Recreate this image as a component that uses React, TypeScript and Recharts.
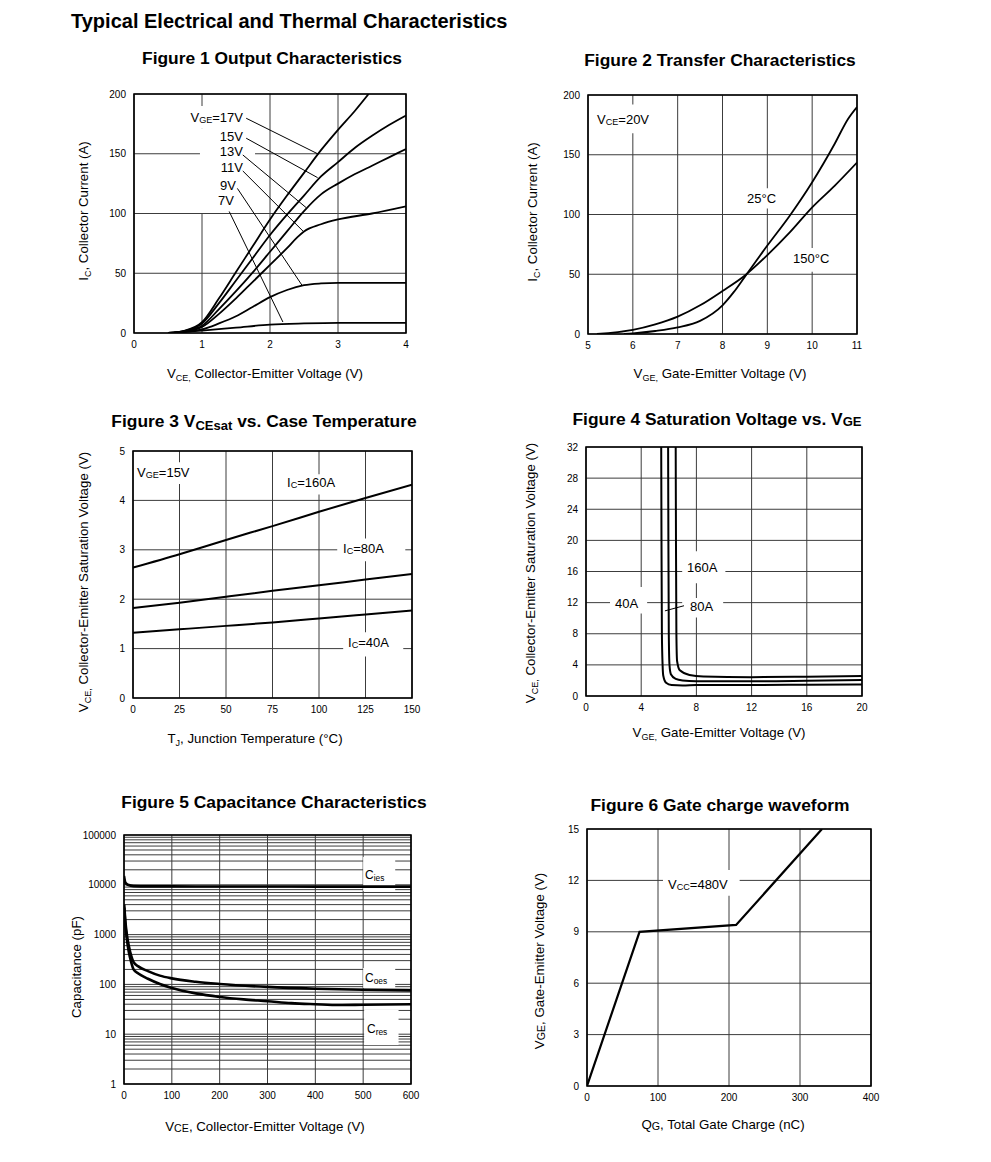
import React from 'react';
import { LineChart, Line, XAxis, YAxis, CartesianGrid, ReferenceArea, ReferenceLine } from 'recharts';

// ---------- Figure 1 : Output characteristics ----------
const f1XTicks = [0, 1, 2, 3, 4];
const f1YTicks = [0, 50, 100, 150, 200];
const f1V17 = [{x:0.5,y:0},{x:0.75,y:2},{x:1,y:9},{x:1.25,y:29},{x:1.5,y:51},{x:1.75,y:73},{x:2,y:95},{x:2.25,y:115},{x:2.5,y:134},{x:2.75,y:153},{x:3,y:170},{x:3.25,y:186},{x:3.45,y:200}];
const f1V15 = [{x:0.5,y:0},{x:0.75,y:1.8},{x:1,y:8},{x:1.25,y:25},{x:1.5,y:44},{x:1.75,y:63},{x:2,y:82},{x:2.25,y:99},{x:2.5,y:115},{x:2.75,y:131},{x:3,y:143},{x:3.25,y:155},{x:3.5,y:165},{x:3.75,y:174},{x:4,y:182}];
const f1V13 = [{x:0.5,y:0},{x:0.75,y:1.5},{x:1,y:6},{x:1.25,y:20},{x:1.5,y:35},{x:1.75,y:51},{x:2,y:68},{x:2.25,y:85},{x:2.5,y:102},{x:2.75,y:116},{x:3,y:125},{x:3.25,y:133},{x:3.5,y:140},{x:3.75,y:147},{x:4,y:154}];
const f1V11 = [{x:0.5,y:0},{x:0.75,y:1.2},{x:1,y:5},{x:1.25,y:16},{x:1.5,y:29},{x:1.75,y:43},{x:2,y:57},{x:2.25,y:71},{x:2.4,y:80},{x:2.5,y:85},{x:2.75,y:91},{x:3,y:95},{x:3.5,y:100},{x:4,y:106}];
const f1V9 = [{x:0.5,y:0},{x:0.75,y:1},{x:1,y:3},{x:1.25,y:8},{x:1.5,y:14},{x:1.75,y:22},{x:2,y:30},{x:2.25,y:36},{x:2.5,y:40},{x:2.75,y:41.5},{x:3,y:42},{x:3.5,y:42},{x:4,y:42}];
const f1V7 = [{x:0.5,y:0},{x:1,y:2},{x:1.5,y:4.5},{x:2,y:7},{x:2.5,y:8},{x:3,y:8.5},{x:4,y:8.5}];
const f1Leaders = [
  [{x:1.65,y:179.7},{x:2.70,y:150}],
  [{x:1.65,y:163},{x:2.70,y:130}],
  [{x:1.60,y:149},{x:2.53,y:105}],
  [{x:1.60,y:135.6},{x:2.49,y:85}],
  [{x:1.52,y:121},{x:2.47,y:40}],
  [{x:1.40,y:101.7},{x:2.19,y:9.2}],
];
const f1Boxes = [
  {x1:0.8,x2:1.66,y1:171,y2:190},
  {x1:0.97,x2:1.78,y1:100.5,y2:171},
];

// ---------- Figure 2 : Transfer characteristics ----------
const f2XTicks = [5, 6, 7, 8, 9, 10, 11];
const f2YTicks = [0, 50, 100, 150, 200];
const f2T25 = [{x:5.8,y:0},{x:6,y:0.5},{x:6.5,y:2.5},{x:7,y:5.5},{x:7.5,y:11},{x:8,y:24},{x:8.25,y:35},{x:8.5,y:48},{x:9,y:74},{x:9.5,y:99},{x:10,y:127},{x:10.5,y:159},{x:10.8,y:180},{x:11,y:190}];
const f2T150 = [{x:5.2,y:0},{x:6,y:3.4},{x:6.5,y:8},{x:7,y:14.5},{x:7.5,y:24},{x:8,y:36},{x:8.5,y:49},{x:9,y:66},{x:9.5,y:85},{x:10,y:106},{x:10.5,y:124},{x:11,y:143.5}];
const f2Boxes = [
  {x1:5.16,x2:6.38,y1:168,y2:192},
  {x1:8.5,x2:9.29,y1:105,y2:122},
  {x1:9.51,x2:10.51,y1:52,y2:72},
];

// ---------- Figure 3 : VCEsat vs temperature ----------
const f3XTicks = [0, 25, 50, 75, 100, 125, 150];
const f3YTicks = [0, 1, 2, 3, 4, 5];
const f3I160 = [{x:0,y:2.64},{x:25,y:2.91},{x:50,y:3.2},{x:75,y:3.48},{x:100,y:3.77},{x:125,y:4.05},{x:150,y:4.32}];
const f3I80 = [{x:0,y:1.82},{x:25,y:1.93},{x:50,y:2.05},{x:75,y:2.17},{x:100,y:2.28},{x:125,y:2.40},{x:150,y:2.51}];
const f3I40 = [{x:0,y:1.32},{x:25,y:1.39},{x:50,y:1.46},{x:75,y:1.53},{x:100,y:1.61},{x:125,y:1.69},{x:150,y:1.77}];
const f3Boxes = [
  {x1:1.8,x2:28.7,y1:4.33,y2:4.77},
  {x1:80.8,x2:111.5,y1:4.12,y2:4.53},
  {x1:109.8,x2:146.4,y1:2.77,y2:3.23},
  {x1:113,x2:145.3,y1:0.84,y2:1.33},
];

// ---------- Figure 4 : Saturation voltage vs VGE ----------
const f4XTicks = [0, 4, 8, 12, 16, 20];
const f4YTicks = [0, 4, 8, 12, 16, 20, 24, 28, 32];
const f4I40 = [{x:5.45,y:32},{x:5.47,y:20},{x:5.5,y:8},{x:5.55,y:4},{x:5.6,y:2.6},{x:5.8,y:1.7},{x:6.2,y:1.4},{x:7,y:1.35},{x:8,y:1.4},{x:12,y:1.42},{x:16,y:1.45},{x:20,y:1.48}];
const f4I80 = [{x:5.95,y:32},{x:5.97,y:20},{x:6.0,y:8},{x:6.05,y:4},{x:6.15,y:2.8},{x:6.5,y:2.2},{x:7,y:2.0},{x:8,y:1.9},{x:12,y:1.88},{x:16,y:1.95},{x:20,y:2.05}];
const f4I160 = [{x:6.5,y:32},{x:6.52,y:20},{x:6.55,y:8},{x:6.6,y:4.5},{x:6.8,y:3.3},{x:7.5,y:2.7},{x:8.5,y:2.5},{x:12,y:2.42},{x:16,y:2.48},{x:20,y:2.57}];
const f4Leader = [{x:5.72,y:10.94},{x:7.1,y:11.6}];
const f4Boxes = [
  {x1:6.97,x2:10.1,y1:14.5,y2:18.6},
  {x1:6.97,x2:9.94,y1:10.1,y2:12.6},
  {x1:1.74,x2:4.43,y1:10.6,y2:14},
];

// ---------- Figure 5 : Capacitance ----------
const f5XTicks = [0, 100, 200, 300, 400, 500, 600];
const f5Decades = [1, 10, 100, 1000, 10000, 100000];
const f5Mult = [1, 2, 3, 4, 5, 6, 7, 8, 9];
const f5YTicks = f5Decades.slice(0, 5).flatMap(d => f5Mult.map(m => m * d)).concat([100000]);
const f5Cies = [{x:0,y:15000},{x:3,y:11000},{x:8,y:10000},{x:20,y:9400},{x:50,y:9300},{x:100,y:9300},{x:200,y:9250},{x:300,y:9250},{x:400,y:9200},{x:500,y:9200},{x:600,y:9200}];
const f5Coes = [{x:0.5,y:4000},{x:3,y:1800},{x:6,y:1000},{x:10,y:600},{x:15,y:380},{x:20,y:280},{x:30,y:230},{x:50,y:185},{x:75,y:150},{x:100,y:132},{x:150,y:113},{x:200,y:102},{x:300,y:89},{x:400,y:82},{x:500,y:78},{x:600,y:76}];
const f5Cres = [{x:0.5,y:3500},{x:3,y:1500},{x:6,y:800},{x:10,y:450},{x:15,y:280},{x:20,y:200},{x:30,y:165},{x:50,y:130},{x:75,y:102},{x:100,y:85},{x:150,y:66},{x:200,y:56},{x:250,y:50},{x:300,y:46},{x:350,y:42},{x:400,y:40},{x:450,y:38.5},{x:500,y:39},{x:600,y:40}];
const f5Boxes = [
  {x1:500,x2:567,y1:7500,y2:36000},
  {x1:500,x2:567,y1:85,y2:214},
  {x1:502,x2:574,y1:6.1,y2:30.6},
];

// ---------- Figure 6 : Gate charge ----------
const f6XTicks = [0, 100, 200, 300, 400];
const f6YTicks = [0, 3, 6, 9, 12, 15];
const f6Vge = [{x:0,y:0},{x:74,y:9},{x:210,y:9.4},{x:331,y:15}];
const f6Boxes = [{x1:107,x2:215,y1:11.1,y2:12.6}];

// ---------- layout helpers ----------
const FONT = '"Liberation Sans", Arial, Helvetica, sans-serif';
const YW = 60, XH = 30, MT = 10, MR = 14;
const AX = 13.3; // axis label font size
const FT = 17.4; // figure title font size
const AN = 13;   // annotation font size

type Box = { l: number; t: number; r: number; b: number };

function Panel(props: {
  box: Box; xd: number[]; yd: number[]; xt: number[]; yt: number[];
  log?: boolean; yfmt?: (v: number) => string; children?: React.ReactNode;
}) {
  const { box, xd, yd, xt, yt, log, yfmt, children } = props;
  const w = box.r - box.l, h = box.b - box.t;
  const tick = { fill: '#000', fontSize: 10, fontFamily: FONT };
  return (
    <div style={{ position: 'absolute', left: box.l - YW, top: box.t - MT }}>
      <LineChart width={w + YW + MR} height={h + MT + XH} margin={{ top: MT, right: MR, left: 0, bottom: 0 }}>
        <CartesianGrid stroke="#3c3c3c" strokeWidth={1} />
        <XAxis type="number" dataKey="x" domain={xd} ticks={xt} height={XH} axisLine={false} tickLine={false} tick={tick} interval={0} allowDataOverflow />
        <YAxis type="number" domain={yd} ticks={yt} width={YW} axisLine={false} tickLine={false} tick={tick} interval={0} allowDataOverflow scale={log ? 'log' : 'auto'} tickFormatter={yfmt} />
        {children}
        <ReferenceArea x1={xd[0]} x2={xd[1]} y1={yd[0]} y2={yd[1]} fill="none" stroke="#000" strokeWidth={1.6} ifOverflow="visible" />
      </LineChart>
    </div>
  );
}

const whiteBoxes = (bs: { x1: number; x2: number; y1: number; y2: number }[], key: string) =>
  bs.map((b, i) => (
    <ReferenceArea key={key + i} x1={b.x1} x2={b.x2} y1={b.y1} y2={b.y2} fill="#fff" fillOpacity={1} stroke="none" ifOverflow="visible" />
  ));

const curve = (d: { x: number; y: number }[], key: string, w = 1.8, type: any = 'monotone') => (
  <Line key={key} data={d} dataKey="y" type={type} stroke="#000" strokeWidth={w} dot={false} activeDot={false} isAnimationActive={false} />
);

function T(p: { x: number; y: number; a?: 'start' | 'middle' | 'end'; s?: number; b?: boolean; rot?: boolean; children?: React.ReactNode }) {
  const a = p.a || 'start';
  const tx = a === 'start' ? '0' : a === 'middle' ? '-50%' : '-100%';
  return (
    <div style={{
      position: 'absolute', left: p.x, top: p.y, whiteSpace: 'nowrap', lineHeight: 1,
      fontSize: p.s || AX, fontWeight: p.b ? 700 : 400, fontFamily: FONT, color: '#000',
      transform: p.rot ? 'translate(-50%,-50%) rotate(-90deg)' : `translate(${tx},-50%)`,
    }}>{p.children}</div>
  );
}

const Sub = (p: { c: string; lo?: number; sz?: number }) => (
  <span style={{ fontSize: (p.sz || 0.68) + 'em', position: 'relative', top: (p.lo ?? 0.3) + 'em' }}>{p.c}</span>
);

const B1: Box = { l: 134, t: 94, r: 406, b: 333 };
const B2: Box = { l: 588, t: 95, r: 857, b: 334 };
const B3: Box = { l: 133, t: 451, r: 412, b: 698 };
const B4: Box = { l: 586, t: 447, r: 862, b: 696 };
const B5: Box = { l: 124, t: 835, r: 411, b: 1084 };
const B6: Box = { l: 587, t: 829, r: 871, b: 1086 };

export default function App() {
  return (
    <div style={{ position: 'absolute', left: 0, top: 0, width: 991, height: 1162, background: '#fff', fontFamily: FONT, overflow: 'hidden' }}>
      {/* Figure 1 */}
      <Panel box={B1} xd={[0, 4]} yd={[0, 200]} xt={f1XTicks} yt={f1YTicks}>
        {whiteBoxes(f1Boxes, 'b1')}
        {f1Leaders.map((s, i) => <ReferenceLine key={'l1' + i} segment={s} stroke="#000" strokeWidth={1} ifOverflow="visible" />)}
        {curve(f1V7, 'v7')}{curve(f1V9, 'v9')}{curve(f1V11, 'v11')}{curve(f1V13, 'v13')}{curve(f1V15, 'v15')}{curve(f1V17, 'v17')}
      </Panel>
      {/* Figure 2 */}
      <Panel box={B2} xd={[5, 11]} yd={[0, 200]} xt={f2XTicks} yt={f2YTicks}>
        {whiteBoxes(f2Boxes, 'b2')}
        {curve(f2T25, 't25')}{curve(f2T150, 't150')}
      </Panel>
      {/* Figure 3 */}
      <Panel box={B3} xd={[0, 150]} yd={[0, 5]} xt={f3XTicks} yt={f3YTicks}>
        {whiteBoxes(f3Boxes, 'b3')}
        {curve(f3I160, 'i160', 2, 'natural')}{curve(f3I80, 'i80', 2, 'natural')}{curve(f3I40, 'i40', 2, 'natural')}
      </Panel>
      {/* Figure 4 */}
      <Panel box={B4} xd={[0, 20]} yd={[0, 32]} xt={f4XTicks} yt={f4YTicks}>
        {whiteBoxes(f4Boxes, 'b4')}
        <ReferenceLine segment={f4Leader} stroke="#000" strokeWidth={1} ifOverflow="visible" />
        {curve(f4I40, 'a40', 2)}{curve(f4I80, 'a80', 2)}{curve(f4I160, 'a160', 2)}
      </Panel>
      {/* Figure 5 */}
      <Panel box={B5} xd={[0, 600]} yd={[1, 100000]} xt={f5XTicks} yt={f5YTicks} log
        yfmt={(v: number) => (f5Decades.includes(v) ? String(v) : '')}>
        {whiteBoxes(f5Boxes, 'b5')}
        {curve(f5Cies, 'cies', 2.6)}{curve(f5Coes, 'coes', 2.6)}{curve(f5Cres, 'cres', 2.6)}
      </Panel>
      {/* Figure 6 */}
      <Panel box={B6} xd={[0, 400]} yd={[0, 15]} xt={f6XTicks} yt={f6YTicks}>
        {whiteBoxes(f6Boxes, 'b6')}
        {curve(f6Vge, 'qg', 2.2, 'linear')}
      </Panel>

      {/* titles */}
      <T x={71} y={21} s={20} b>Typical Electrical and Thermal Characteristics</T>
      <T x={272} y={59} s={FT} a="middle" b>Figure 1 Output Characteristics</T>
      <T x={720} y={61} s={FT} a="middle" b>Figure 2 Transfer Characteristics</T>
      <T x={264} y={422} s={FT} a="middle" b>Figure 3 V<Sub c="CEsat" sz={0.75} lo={0.2} /> vs. Case Temperature</T>
      <T x={717} y={420} s={FT} a="middle" b>Figure 4 Saturation Voltage vs. V<Sub c="GE" sz={0.75} lo={0.1} /></T>
      <T x={274} y={803} s={FT} a="middle" b>Figure 5 Capacitance Characteristics</T>
      <T x={720} y={806} s={FT} a="middle" b>Figure 6 Gate charge waveform</T>

      {/* axis labels */}
      <T x={84} y={211} rot>I<Sub c="C" />, Collector Current (A)</T>
      <T x={265} y={374} a="middle">V<Sub c="CE," />&nbsp;Collector-Emitter Voltage (V)</T>
      <T x={533} y={212} rot>I<Sub c="C" />, Collector Current (A)</T>
      <T x={720} y={374} a="middle">V<Sub c="GE," />&nbsp;Gate-Emitter Voltage (V)</T>
      <T x={84} y={582} rot>V<Sub c="CE," />&nbsp;Collector-Emitter Saturation Voltage (V)</T>
      <T x={255} y={739} a="middle">T<Sub c="J" />, Junction Temperature (°C)</T>
      <T x={531} y={573} rot>V<Sub c="CE," />&nbsp;Collector-Emitter Saturation Voltage (V)</T>
      <T x={719} y={733} a="middle">V<Sub c="GE," />&nbsp;Gate-Emitter Voltage (V)</T>
      <T x={77} y={967} rot>Capacitance (pF)</T>
      <T x={265} y={1127} a="middle">V<Sub c="CE" sz={0.8} lo={0.1} />, Collector-Emitter Voltage (V)</T>
      <T x={540} y={961} rot>V<Sub c="GE" sz={0.8} lo={0.1} />, Gate-Emitter Voltage (V)</T>
      <T x={723} y={1125} a="middle">Q<Sub c="G" sz={0.8} lo={0.1} />, Total Gate Charge (nC)</T>

      {/* annotations */}
      <T x={243} y={118} a="end" s={AN}>V<Sub c="GE" sz={0.7} lo={0.1} />=17V</T>
      <T x={243} y={136} a="end" s={AN}>15V</T>
      <T x={243} y={151} a="end" s={AN}>13V</T>
      <T x={243} y={167} a="end" s={AN}>11V</T>
      <T x={236} y={185} a="end" s={AN}>9V</T>
      <T x={234} y={200} a="end" s={AN}>7V</T>

      <T x={597} y={120} s={AN}>V<Sub c="CE" sz={0.7} lo={0.1} />=20V</T>
      <T x={747} y={198} s={AN}>25°C</T>
      <T x={793} y={258} s={AN}>150°C</T>

      <T x={137} y={473} s={AN}>V<Sub c="GE" sz={0.7} lo={0.1} />=15V</T>
      <T x={287} y={483} s={AN}>I<Sub c="C" sz={0.7} lo={0.15} />=160A</T>
      <T x={343} y={549} s={AN}>I<Sub c="C" sz={0.7} lo={0.15} />=80A</T>
      <T x={348} y={643} s={AN}>I<Sub c="C" sz={0.7} lo={0.15} />=40A</T>

      <T x={687} y={567} s={AN}>160A</T>
      <T x={690} y={606} s={AN}>80A</T>
      <T x={615} y={603} s={AN}>40A</T>

      <T x={365} y={875} s={12}>C<Sub c="ies" sz={0.7} lo={0.2} /></T>
      <T x={365} y={978} s={12}>C<Sub c="oes" sz={0.7} lo={0.2} /></T>
      <T x={367} y={1029} s={12}>C<Sub c="res" sz={0.7} lo={0.2} /></T>

      <T x={668} y={885} s={AN}>V<Sub c="CC" sz={0.7} lo={0.15} />=480V</T>
    </div>
  );
}
